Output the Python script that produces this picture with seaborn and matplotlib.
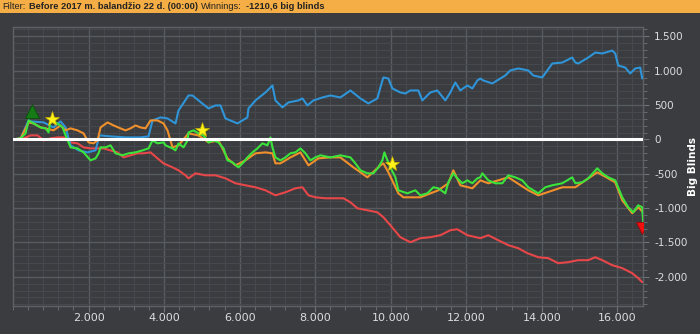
import matplotlib
matplotlib.use("Agg")
import matplotlib.pyplot as plt
import numpy as np
import pandas as pd
import seaborn as sns
from matplotlib.patches import Rectangle
from matplotlib.ticker import MultipleLocator, FixedLocator, FuncFormatter

# ---------------- data (hands, big blinds) ----------------
blue_hands = [16, 201, 413, 466, 810, 1074, 1259, 1392, 1524, 1736, 1974, 2186, 2291, 2582, 2979, 3376,
              3588, 3694, 3906, 4091, 4303, 4382, 4647, 4752, 4911, 5176, 5361, 5493, 5625, 5943, 6207,
              6234, 6419, 6684, 6869, 6948, 7133, 7292, 7557, 7663, 7795, 7954, 8192, 8404, 8668, 8933,
              9198, 9409, 9647, 9727, 9806, 9938, 10044, 10256, 10388, 10520, 10732, 10838, 11049, 11235,
              11446, 11579, 11711, 11843, 12029, 12161, 12293, 12373, 12452, 12690, 12902, 13034, 13166,
              13378, 13643, 13775, 14013, 14146, 14278, 14543, 14807, 14887, 14966, 15230, 15416, 15601,
              15866, 15945, 16024, 16209, 16341, 16474, 16606, 16659]
blue_bb = [0, 15, 276, 262, 247, 174, 262, 174, -87, -160, -189, -160, 58, 44, 29, 29,
           44, 276, 320, 305, 232, 421, 639, 639, 567, 450, 494, 494, 305, 232, 320,
           450, 567, 683, 785, 567, 465, 538, 567, 596, 494, 567, 610, 639, 610, 712,
           596, 523, 596, 756, 901, 886, 741, 683, 668, 712, 712, 567, 683, 712,
           567, 683, 828, 712, 785, 741, 857, 886, 857, 814, 886, 930, 1003,
           1032, 1003, 930, 901, 1003, 1104, 1119, 1191, 1119, 1104, 1191, 1264, 1250,
           1293, 1250, 1075, 1046, 959, 1032, 1046, 886]

green_hands = [16, 201, 333, 413, 545, 730, 863, 942, 995, 1180, 1312, 1392, 1524, 1709, 1868, 2053,
               2186, 2265, 2318, 2450, 2582, 2715, 2900, 3059, 3244, 3429, 3588, 3694, 3826, 3985,
               4038, 4223, 4303, 4382, 4514, 4620, 4647, 4779, 4911, 5043, 5176, 5308, 5440, 5572,
               5678, 5811, 5969, 6102, 6207, 6340, 6472, 6604, 6737, 6816, 6869, 6948, 7080, 7213,
               7345, 7477, 7610, 7742, 7874, 8006, 8139, 8404, 8668, 8933, 9065, 9198, 9383, 9542,
               9674, 9780, 9833, 9912, 9992, 10124, 10203, 10441, 10653, 10785, 10970, 11129, 11261,
               11446, 11526, 11658, 11764, 11896, 12029, 12161, 12293, 12373, 12426, 12585, 12770,
               12955, 13114, 13299, 13484, 13643, 13908, 14093, 14278, 14543, 14807, 14887, 15072,
               15230, 15469, 15601, 15760, 15945, 16130, 16289, 16421, 16553, 16659, 16686]
green_bb = [0, 15, 87, 276, 232, 174, 160, 102, 276, 232, 174, 58, -116, -131, -189, -305,
            -276, -203, -116, -116, -87, -203, -232, -203, -189, -160, -131, -15, -58, -44,
            -87, -131, -160, -58, -116, -15, 102, 131, 87, 58, -44, -15, -44, -131,
            -305, -334, -407, -334, -262, -189, -131, -58, -87, 29, -116, -262, -305, -262,
            -203, -189, -131, -203, -305, -262, -232, -262, -232, -262, -349, -450, -494, -494,
            -407, -305, -189, -305, -407, -552, -741, -785, -741, -814, -785, -697, -712,
            -785, -625, -494, -567, -639, -596, -639, -567, -552, -494, -596, -639,
            -639, -523, -552, -596, -697, -785, -697, -668, -639, -552, -639, -625,
            -567, -421, -494, -552, -596, -843, -988, -1061, -959, -988, -1210.6]

orange_hands = [16, 201, 413, 545, 730, 863, 1074, 1259, 1392, 1524, 1709, 1868, 2000, 2133, 2239,
                2318, 2503, 2662, 2847, 2979, 3111, 3244, 3376, 3509, 3641, 3826, 3985, 4091, 4223,
                4382, 4647, 4911, 5176, 5440, 5572, 5678, 5890, 6154, 6419, 6684, 6869, 6948, 7080,
                7345, 7610, 7822, 8086, 8404, 8668, 9012, 9198, 9383, 9727, 9806, 9938, 10203,
                10335, 10785, 11261, 11526, 11658, 11843, 12161, 12373, 12585, 13114, 13643, 13908,
                14543, 14887, 15469, 15945, 16130, 16394, 16553, 16686]
orange_bb = [0, 15, 247, 232, 174, 160, 131, 203, 131, 160, 131, 87, -44, -58, -15,
             174, 247, 203, 160, 131, 160, 203, 174, 160, 276, 276, 232, 131, -116,
             -87, 87, 58, -44, -15, -160, -276, -378, -305, -203, -189, -203, -349, -349,
             -262, -189, -378, -276, -262, -262, -407, -479, -552, -378, -349, -479, -785,
             -843, -843, -741, -639, -450, -668, -712, -596, -639, -552, -741, -814,
             -697, -697, -479, -625, -886, -1075, -988, -1061]

red_hands = [16, 280, 466, 651, 810, 995, 1180, 1339, 1524, 1709, 1868, 2053, 2239, 2397, 2582,
             2768, 2926, 3111, 3297, 3456, 3641, 3826, 3985, 4223, 4382, 4567, 4647, 4832, 5096,
             5361, 5625, 5890, 6154, 6419, 6684, 6948, 7213, 7477, 7663, 7822, 8006, 8271, 8747,
             8933, 9118, 9383, 9647, 9806, 9992, 10256, 10520, 10785, 11049, 11314, 11579, 11764,
             12029, 12373, 12585, 12849, 13114, 13378, 13616, 13908, 14172, 14437, 14701, 14966,
             15230, 15416, 15601, 15866, 16130, 16394, 16553, 16659]
red_bb = [0, 15, 58, 58, -15, 15, 29, 29, -44, -58, -116, -131, -131, -131, -160,
          -189, -262, -232, -203, -203, -189, -276, -349, -407, -450, -523, -567, -494, -523,
          -523, -567, -639, -668, -697, -741, -814, -770, -712, -697, -814, -843, -857, -857,
          -915, -1003, -1032, -1061, -1133, -1250, -1424, -1497, -1438, -1424, -1395, -1322, -1308,
          -1395, -1438, -1395, -1468, -1540, -1584, -1656, -1715, -1729, -1802, -1787, -1758,
          -1758, -1715, -1758, -1831, -1874, -1947, -2020, -2078]

star_hands = [1021, 5017, 10044]
star_bb = [291, 131, -363]
peak_hand, peak_bb = [492], [407]
end_hand, end_bb = [16659], [-1293]

x_ticks = [2000, 4000, 6000, 8000, 10000, 12000, 14000, 16000]
title_parts = [("Filter: ", "normal"), ("Before 2017 m. balandžio 22 d. (00:00)", "bold"),
               ("Winnings: ", "normal"), ("-1210,6 big blinds", "bold")]

# ---------------- style ----------------
sns.set_theme(style="dark")
plt.rcParams["font.family"] = ["DejaVu Sans"]

BG = "#3a3c3f"
MAJ = "#585b5f"
MIN = "#46494d"
colors = {"red": "#e8474a", "blue": "#2f94d8", "orange": "#f0902c", "green": "#3be33b"}

fig = plt.figure(figsize=(7, 3.34), dpi=100, facecolor=BG)
ax = fig.add_axes([13 / 700, 1 - 306 / 334, 630 / 700, (306 - 26.7) / 334])
ax.set_facecolor(BG)

frames = []
for name, h, v in [("red", red_hands, red_bb), ("blue", blue_hands, blue_bb),
                   ("orange", orange_hands, orange_bb), ("green", green_hands, green_bb)]:
    frames.append(pd.DataFrame({"hands": h, "bb": v, "series": name}))
df = pd.concat(frames, ignore_index=True)

sns.lineplot(data=df, x="hands", y="bb", hue="series", hue_order=["red", "blue", "orange", "green"],
             palette=colors, estimator=None, sort=False, linewidth=1.5, legend=False, ax=ax, zorder=3)

ax.axhline(0, color="white", lw=2.2, zorder=4)

ax.plot(star_hands, star_bb, linestyle="none", marker="*", ms=11, color="#fff21a",
        markeredgecolor="#c8b400", markeredgewidth=0.5, zorder=6)
ax.plot(peak_hand, peak_bb, linestyle="none", marker="^", ms=10, color="#167a16",
        markeredgecolor="#0b4d0b", markeredgewidth=0.6, zorder=6)
ax.plot(end_hand, end_bb, linestyle="none", marker="v", ms=9, color="#f01010",
        markeredgecolor="#a00000", markeredgewidth=0.5, zorder=6)

ax.set_xlim(0, 16680)
ax.set_ylim(-2425, 1640)

ax.xaxis.set_major_locator(FixedLocator(x_ticks))
ax.xaxis.set_minor_locator(MultipleLocator(400))
ax.yaxis.set_major_locator(MultipleLocator(500))
ax.yaxis.set_minor_locator(MultipleLocator(100))
fmt = FuncFormatter(lambda v, p: f"{int(round(v)):,}".replace(",", "."))
ax.xaxis.set_major_formatter(fmt)
ax.yaxis.set_major_formatter(fmt)

ax.grid(which="major", color=MAJ, lw=1.0, zorder=0)
ax.grid(which="minor", color=MIN, lw=0.7, zorder=0)
ax.set_axisbelow(True)

ax.yaxis.tick_right()
ax.tick_params(axis="both", which="both", direction="out", color="#707377",
               labelcolor="#dcdde0", labelsize=7.5)
ax.tick_params(axis="both", which="major", length=4, width=0.8)
ax.tick_params(axis="both", which="minor", length=3, width=0.6)
ax.tick_params(axis="y", pad=4)
ax.tick_params(axis="x", pad=1)
ax.tick_params(axis="y", which="both", left=False, right=True)
ax.tick_params(axis="x", which="both", bottom=True, top=False)
for lab in ax.get_xticklabels():
    lab.set_family(["Liberation Sans Narrow", "DejaVu Sans"])
    lab.set_fontsize(8)
for s in ax.spines.values():
    s.set_color("#5e6165")
    s.set_linewidth(1.0)

ax.set_xlabel("")
ax.set_ylabel("")
fig.text(693 / 700, 1 - 167 / 334, "Big Blinds", rotation=90, ha="center", va="center",
         color="white", fontsize=7.5, fontweight="bold")

# title bar
fig.patches.append(Rectangle((0, 1 - 13 / 334), 1, 13 / 334, transform=fig.transFigure,
                             facecolor="#f5ae45", edgecolor="none", zorder=0))
fig.canvas.draw()
r = fig.canvas.get_renderer()
xpos = 2.0
for i, (s, w) in enumerate(title_parts):
    t = fig.text(xpos / 700, 1 - 6.8 / 334, s.strip(), ha="left", va="center",
                 fontsize=6.7, fontweight=w, color="#222222",
                 family=["Liberation Sans", "DejaVu Sans"])
    bb = t.get_window_extent(r)
    xpos = bb.x1 + 3.5

fig.savefig("out.png", dpi=100, facecolor=BG)
